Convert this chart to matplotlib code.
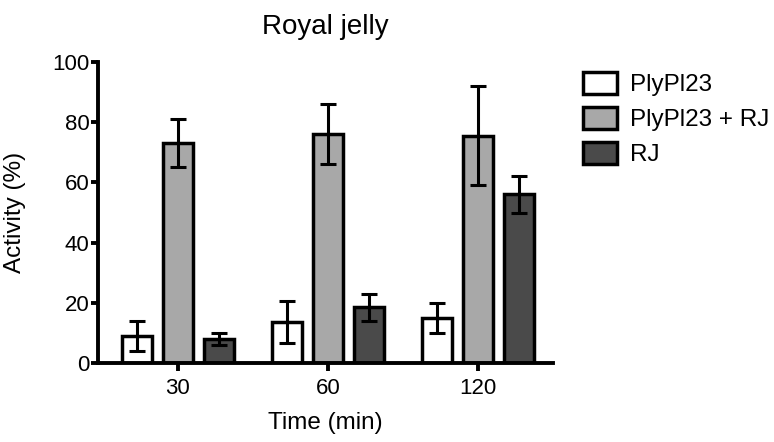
import numpy as np
import matplotlib
matplotlib.use("Agg")
import matplotlib.pyplot as plt

plt.rcParams['font.family'] = ['Liberation Sans', 'DejaVu Sans']

times = ['30', '60', '120']
series = ['PlyPl23', 'PlyPl23 + RJ', 'RJ']
colors = ['white', '#a8a8a8', '#4a4a4a']

means = [
    [9, 13.5, 15],    # PlyPl23
    [73, 76, 75.5],   # PlyPl23 + RJ
    [8, 18.5, 56],    # RJ
]
errs = [
    [5, 7, 5],
    [8, 10, 16.5],
    [2, 4.5, 6],
]

fig = plt.figure(figsize=(7.74, 4.42), dpi=100)
ax = fig.add_axes([0.1266, 0.1787, 0.588, 0.681])

x = np.arange(len(times))
offsets = [-0.273, 0, 0.273]
width = 0.2
handles = []
for i in range(3):
    b = ax.bar(x + offsets[i], means[i], width, color=colors[i],
               edgecolor='black', linewidth=2.5, label=series[i], zorder=2)
    handles.append(b)
    ax.errorbar(x + offsets[i], means[i], yerr=errs[i], fmt='none',
                ecolor='black', elinewidth=2.2, capsize=5.5, capthick=2.2,
                zorder=3)

ax.set_xlim(-0.533, 2.5)
ax.set_ylim(0, 100)
ax.set_yticks([0, 20, 40, 60, 80, 100])
ax.set_xticks(x)
ax.set_xticklabels(times)

for s in ['top', 'right']:
    ax.spines[s].set_visible(False)
for s in ['left', 'bottom']:
    ax.spines[s].set_linewidth(2.8)
ax.tick_params(axis='both', width=2.8, labelsize=16)
ax.tick_params(axis='y', length=5, pad=1)
ax.tick_params(axis='x', length=6, pad=5)

ax.set_title('Royal jelly', fontsize=20, pad=20)
ax.set_ylabel('Activity (%)', fontsize=17.5, labelpad=19)
ax.set_xlabel('Time (min)', fontsize=17.5, labelpad=9)

fig.legend(handles=handles, labels=series, loc='upper left',
           bbox_to_anchor=(0.725, 0.887), frameon=False, fontsize=17.5,
           handlelength=1.4, handleheight=1.0, handletextpad=0.55,
           labelspacing=0.45)

fig.savefig('out.png', dpi=100)
